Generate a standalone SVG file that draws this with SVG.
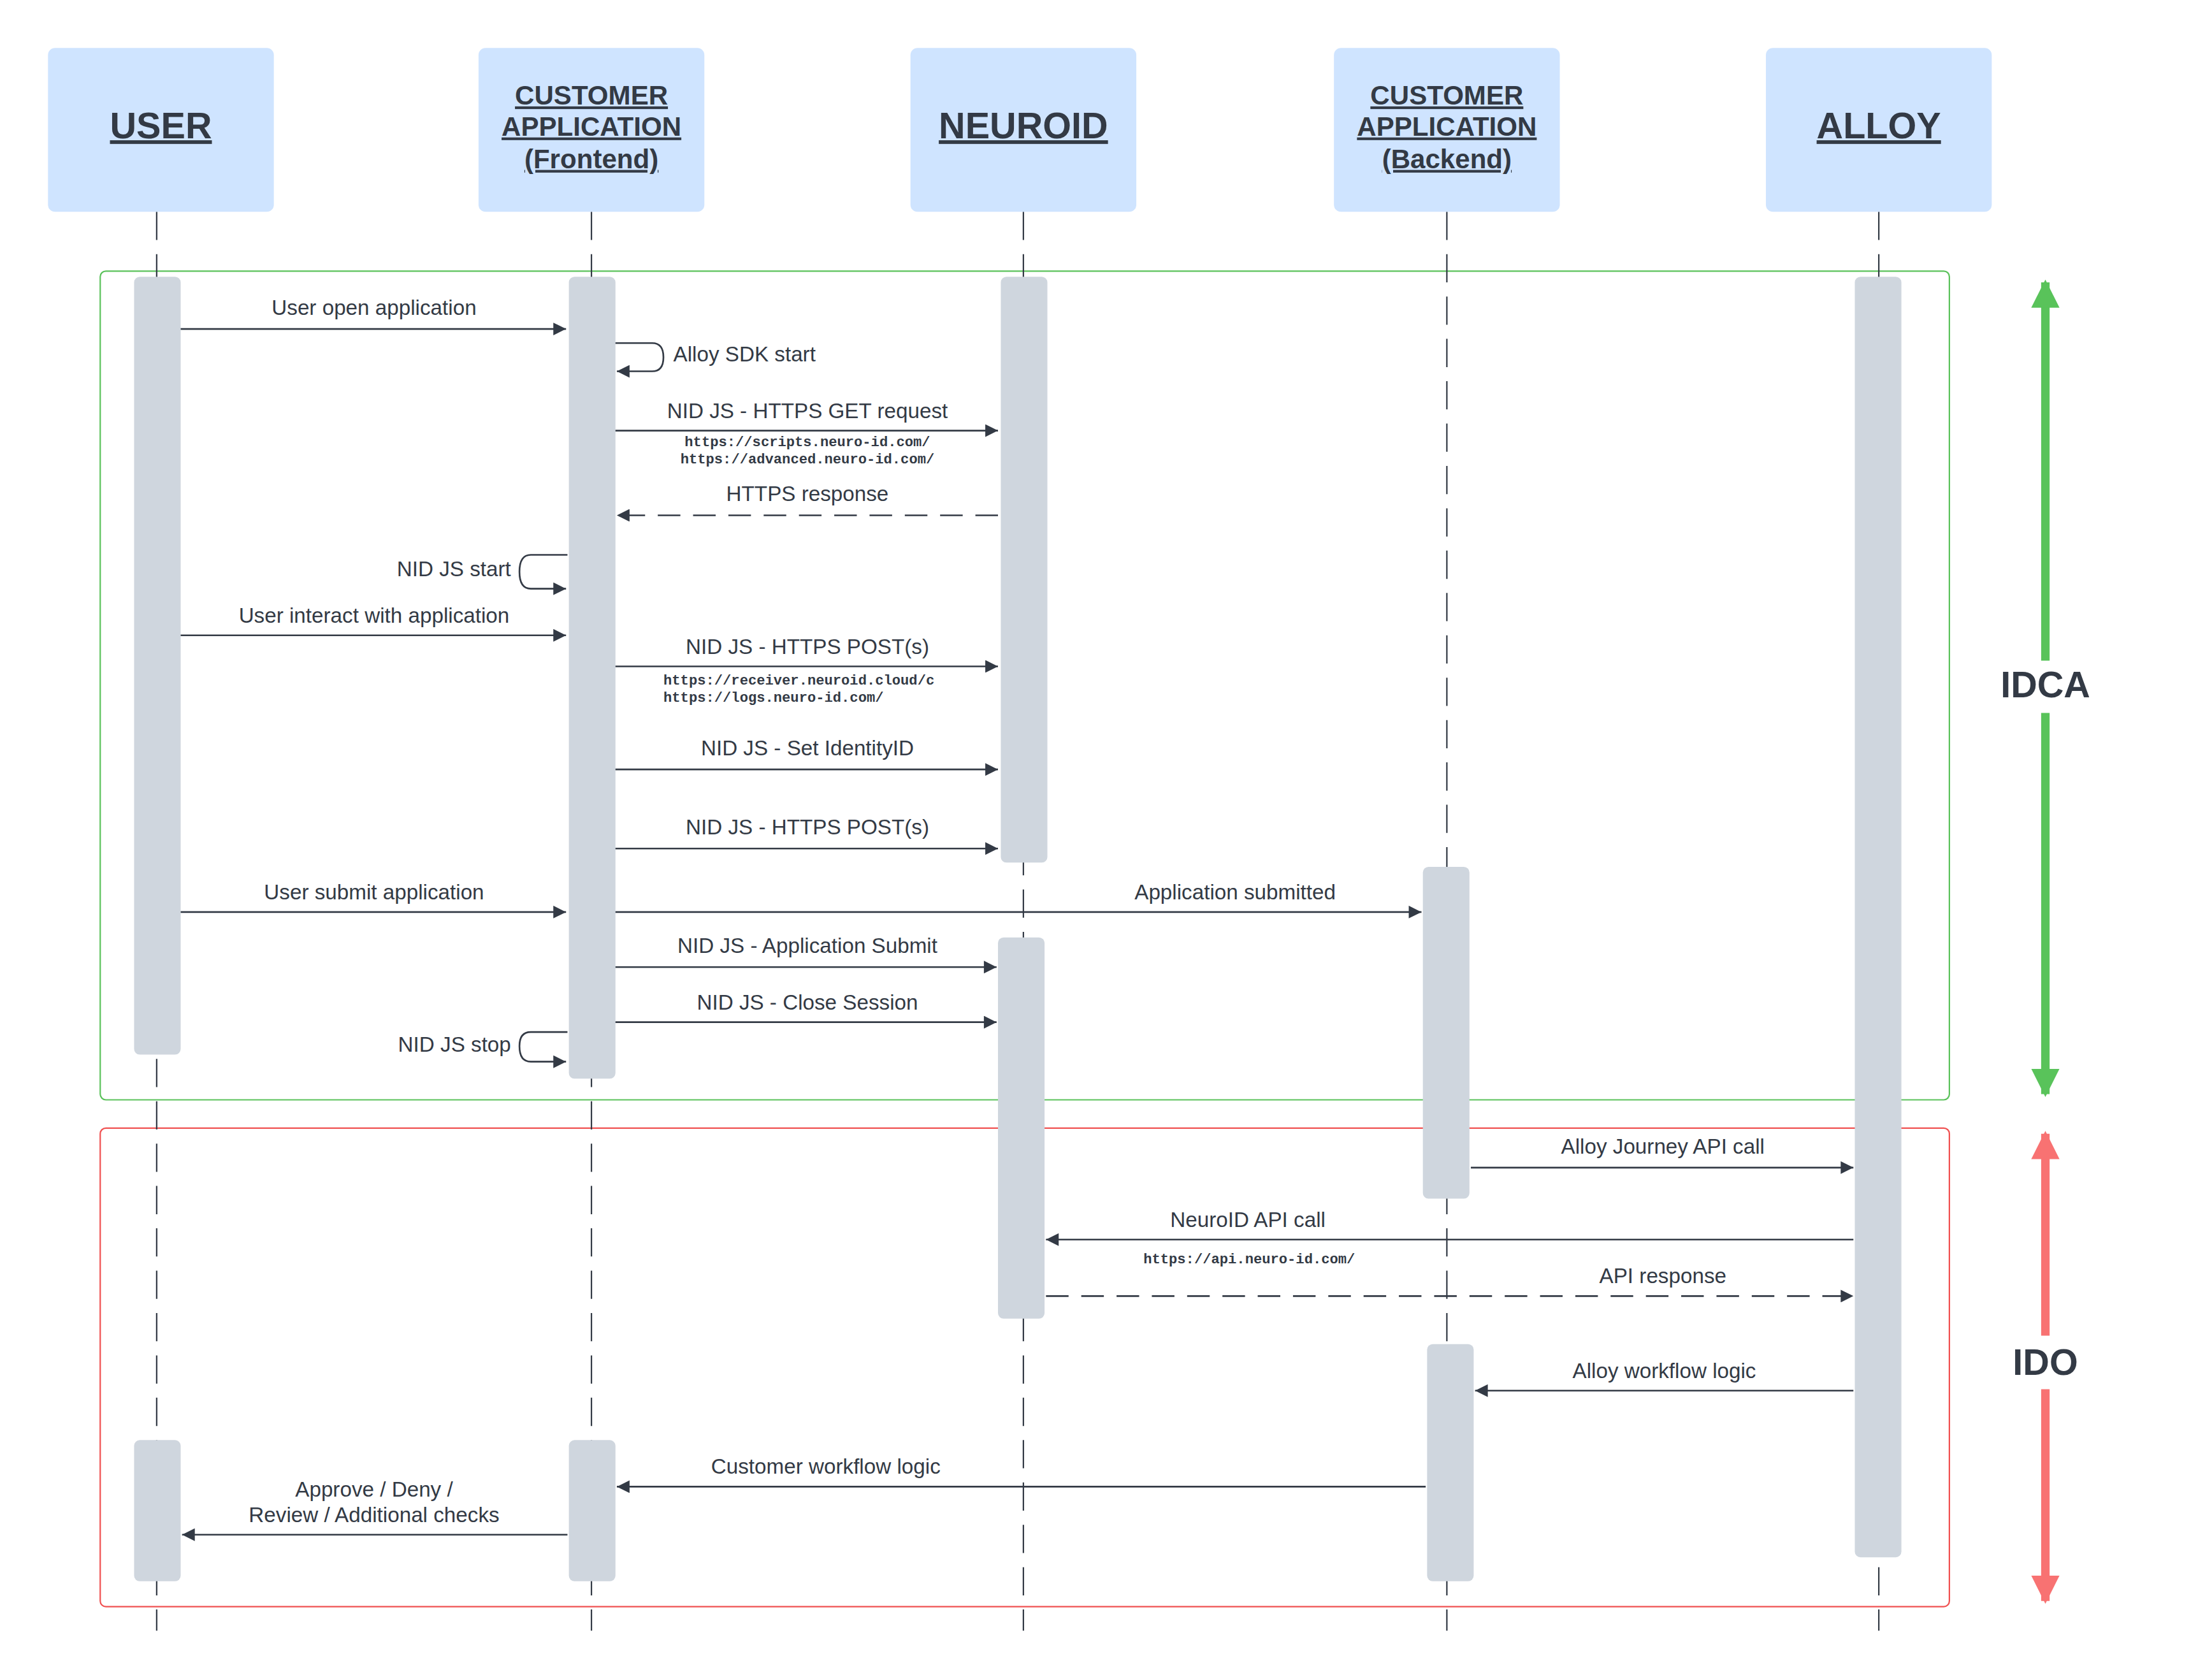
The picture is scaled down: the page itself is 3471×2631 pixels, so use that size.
<svg xmlns="http://www.w3.org/2000/svg" width="3471" height="2631" viewBox="0 0 3471 2631">
<style>
.hd{fill:#cfe4ff}
.ht{font-family:"Liberation Sans",Arial,sans-serif;font-weight:bold;fill:#333a45;text-decoration:underline;text-anchor:middle}
.ll{stroke:#333a45;stroke-width:1;stroke-dasharray:20 10;fill:none}
.act{fill:#cfd6de}
.m{stroke:#333a45;stroke-width:1.2;fill:none;marker-end:url(#ah)}
.d{stroke-dasharray:16 9}
.t{font-family:"Liberation Sans",Arial,sans-serif;font-size:15px;fill:#333a45;text-anchor:middle}
.u{font-family:"Liberation Mono","Courier New",monospace;font-weight:bold;font-size:10px;fill:#333a45;text-anchor:middle}
.s{text-anchor:start}
.e{text-anchor:end}
.big{font-family:"Liberation Sans",Arial,sans-serif;font-weight:bold;font-size:26px;fill:#333a45;text-anchor:middle}
</style>
<defs>
<marker id="ah" viewBox="0 0 10 10" refX="10" refY="5" markerWidth="12" markerHeight="9" markerUnits="userSpaceOnUse" orient="auto"><path d="M0,0 L10,5 L0,10 z" fill="#333a45"/></marker>
<marker id="ag" viewBox="0 0 10 10" refX="9" refY="5" markerWidth="20" markerHeight="30" markerUnits="userSpaceOnUse" orient="auto"><path d="M0,0 L10,5 L0,10 z" fill="#59c35a"/></marker>
<marker id="ar" viewBox="0 0 10 10" refX="9" refY="5" markerWidth="20" markerHeight="30" markerUnits="userSpaceOnUse" orient="auto"><path d="M0,0 L10,5 L0,10 z" fill="#f87272"/></marker>
</defs>
<rect width="3471" height="2631" fill="#fff"/>
<g transform="scale(2.215)">
<g id="frames">
<rect x="71" y="192" width="1310" height="587" rx="4" fill="none" stroke="#5bc25b" stroke-width="1"/>
<rect x="71" y="799" width="1310" height="339" rx="4" fill="none" stroke="#f05050" stroke-width="1"/>
</g>
<g id="lifelines">
<line class="ll" x1="111" y1="150" x2="111" y2="1155"/>
<line class="ll" x1="419" y1="150" x2="419" y2="1155"/>
<line class="ll" x1="725" y1="150" x2="725" y2="1155"/>
<line class="ll" x1="1025" y1="150" x2="1025" y2="1155"/>
<line class="ll" x1="1331" y1="150" x2="1331" y2="1155"/>
</g>
<g id="user"><rect class="hd" x="34" y="34" width="160" height="116" rx="5"/><text class="ht" x="114" y="98" font-size="26">USER</text></g>
<g id="frontend"><rect class="hd" x="339" y="34" width="160" height="116" rx="5"/><text class="ht" x="419" y="74" font-size="19">CUSTOMER</text><text class="ht" x="419" y="96" font-size="19">APPLICATION</text><text class="ht" x="419" y="119" font-size="19">(Frontend)</text></g>
<g id="neuroid"><rect class="hd" x="645" y="34" width="160" height="116" rx="5"/><text class="ht" x="725" y="98" font-size="26">NEUROID</text></g>
<g id="backend"><rect class="hd" x="945" y="34" width="160" height="116" rx="5"/><text class="ht" x="1025" y="74" font-size="19">CUSTOMER</text><text class="ht" x="1025" y="96" font-size="19">APPLICATION</text><text class="ht" x="1025" y="119" font-size="19">(Backend)</text></g>
<g id="alloy"><rect class="hd" x="1251" y="34" width="160" height="116" rx="5"/><text class="ht" x="1331" y="98" font-size="26">ALLOY</text></g>
<g id="activations">
<rect class="act" x="95" y="196" width="33" height="551" rx="4"/>
<rect class="act" x="95" y="1020" width="33" height="100" rx="4"/>
<rect class="act" x="403" y="196" width="33" height="568" rx="4"/>
<rect class="act" x="403" y="1020" width="33" height="100" rx="4"/>
<rect class="act" x="709" y="196" width="33" height="415" rx="4"/>
<rect class="act" x="707" y="664" width="33" height="270" rx="4"/>
<rect class="act" x="1008" y="614" width="33" height="235" rx="4"/>
<rect class="act" x="1011" y="952" width="33" height="168" rx="4"/>
<rect class="act" x="1314" y="196" width="33" height="907" rx="4"/>
</g>
<g id="connectors">
<path class="m" d="M128,233 H401"/>
<path class="m" d="M436,243 H462 Q470,243 470,253 Q470,263 462,263 H437"/>
<path class="m" d="M436,305 H707"/>
<path class="m d" d="M707,365 H437"/>
<path class="m" d="M402,393 H376 Q368,393 368,405 Q368,417 376,417 H401"/>
<path class="m" d="M128,450 H401"/>
<path class="m" d="M436,472 H707"/>
<path class="m" d="M436,545 H707"/>
<path class="m" d="M436,601 H707"/>
<path class="m" d="M128,646 H401"/>
<path class="m" d="M436,646 H1007"/>
<path class="m" d="M436,685 H706"/>
<path class="m" d="M436,724 H706"/>
<path class="m" d="M402,731 H376 Q368,731 368,741 Q368,752 376,752 H401"/>
<path class="m" d="M1042,827 H1313" stroke-width="0.8"/>
<path class="m" d="M1313,878 H741"/>
<path class="m d" d="M741,918 H1313"/>
<path class="m" d="M1313,985 H1045"/>
<path class="m" d="M1010,1053 H437"/>
<path class="m" d="M402,1087 H129"/>
</g>
<g id="labels">
<text class="t" x="265" y="223">User open application</text>
<text class="t s" x="477" y="256">Alloy SDK start</text>
<text class="t" x="572" y="296">NID JS - HTTPS GET request</text>
<text class="u" x="572" y="316">https://scripts.neuro-id.com/</text>
<text class="u" x="572" y="328">https://advanced.neuro-id.com/</text>
<text class="t" x="572" y="355">HTTPS response</text>
<text class="t e" x="362" y="408">NID JS start</text>
<text class="t" x="265" y="441">User interact with application</text>
<text class="t" x="572" y="463">NID JS - HTTPS POST(s)</text>
<text class="u s" x="470" y="485">https://receiver.neuroid.cloud/c</text>
<text class="u s" x="470" y="497">https://logs.neuro-id.com/</text>
<text class="t" x="572" y="535">NID JS - Set IdentityID</text>
<text class="t" x="572" y="591">NID JS - HTTPS POST(s)</text>
<text class="t" x="265" y="637">User submit application</text>
<text class="t" x="875" y="637">Application submitted</text>
<text class="t" x="572" y="675">NID JS - Application Submit</text>
<text class="t" x="572" y="715">NID JS - Close Session</text>
<text class="t e" x="362" y="745">NID JS stop</text>
<text class="t" x="1178" y="817">Alloy Journey API call</text>
<text class="t" x="884" y="869">NeuroID API call</text>
<text class="u" x="885" y="895">https://api.neuro-id.com/</text>
<text class="t" x="1178" y="909">API response</text>
<text class="t" x="1179" y="976">Alloy workflow logic</text>
<text class="t" x="585" y="1044">Customer workflow logic</text>
<text class="t" x="265" y="1060">Approve / Deny /</text>
<text class="t" x="265" y="1078">Review / Additional checks</text>
</g>
<g id="phases">
<line x1="1449" y1="468" x2="1449" y2="200" stroke="#59c35a" stroke-width="6" marker-end="url(#ag)"/>
<line x1="1449" y1="505" x2="1449" y2="775" stroke="#59c35a" stroke-width="6" marker-end="url(#ag)"/>
<text class="big" x="1449" y="494">IDCA</text>
<line x1="1449" y1="946" x2="1449" y2="803" stroke="#f87272" stroke-width="6" marker-end="url(#ar)"/>
<line x1="1449" y1="984" x2="1449" y2="1134" stroke="#f87272" stroke-width="6" marker-end="url(#ar)"/>
<text class="big" x="1449" y="974">IDO</text>
</g>
</g>
</svg>
